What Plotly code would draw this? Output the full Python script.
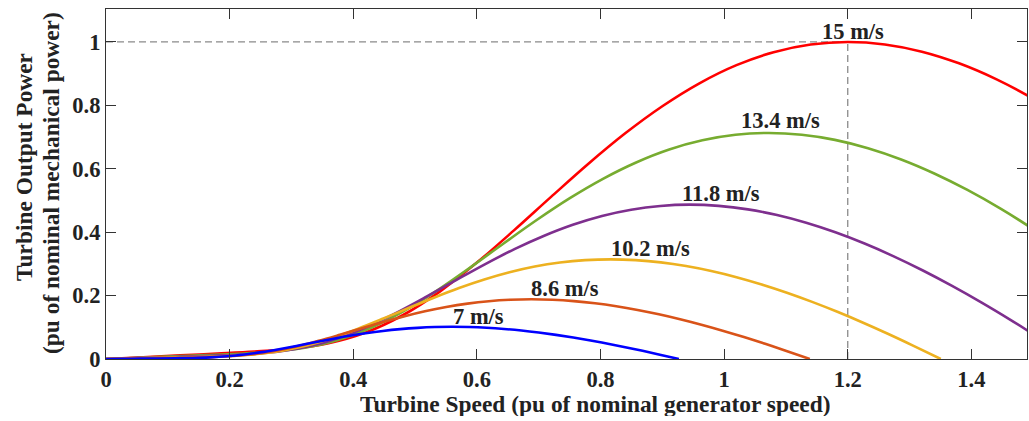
import plotly.graph_objects as go

# Wind speeds (labels) and colours
speeds = ["15 m/s", "13.4 m/s", "11.8 m/s", "10.2 m/s", "8.6 m/s", "7 m/s"]
colors = ["#FF0000", "#77AC30", "#7E2F8E", "#EDB120", "#D95319", "#0000FF"]

# Turbine speed (pu) and turbine output power (pu) read for each curve
x_15 = [0, 0.06, 0.12, 0.18, 0.24, 0.30, 0.36, 0.42, 0.48, 0.54, 0.60, 0.66, 0.72, 0.78, 0.84, 0.90,
        0.96, 1.02, 1.08, 1.14, 1.20, 1.26, 1.32, 1.38, 1.44, 1.50, 1.56]
y_15 = [0, 0.0057, 0.0115, 0.0172, 0.0233, 0.0321, 0.0498, 0.0836, 0.1380, 0.2127, 0.3040, 0.4057,
        0.5113, 0.6151, 0.7118, 0.7973, 0.8697, 0.9270, 0.9676, 0.9918, 1.0, 0.9922, 0.9695, 0.9326,
        0.8827, 0.8208, 0.7479]

x_134 = [0, 0.0536, 0.1072, 0.1608, 0.2144, 0.268, 0.3216, 0.3752, 0.4288, 0.4824, 0.536, 0.5896,
         0.6432, 0.6968, 0.7504, 0.804, 0.8576, 0.9112, 0.9648, 1.0184, 1.072, 1.1256, 1.1792, 1.2328,
         1.2864, 1.34, 1.3936, 1.4472, 1.5008, 1.5544]
y_134 = [0, 0.0041, 0.0082, 0.0123, 0.0166, 0.0229, 0.0355, 0.0596, 0.0984, 0.1516, 0.2167, 0.2892,
         0.3645, 0.4385, 0.5074, 0.5684, 0.6200, 0.6609, 0.6898, 0.7071, 0.7129, 0.7073, 0.6912, 0.6648,
         0.6293, 0.5851, 0.5332, 0.4742, 0.4087, 0.3376]

x_118 = [0, 0.0472, 0.0944, 0.1416, 0.1888, 0.236, 0.2832, 0.3304, 0.3776, 0.4248, 0.472, 0.5192,
         0.5664, 0.6136, 0.6608, 0.708, 0.7552, 0.8024, 0.8496, 0.8968, 0.944, 0.9912, 1.0384, 1.0856,
         1.1328, 1.18, 1.2272, 1.2744, 1.3216, 1.3688, 1.416, 1.4632, 1.5104, 1.5623]
y_118 = [0, 0.0028, 0.0056, 0.0084, 0.0113, 0.0156, 0.0242, 0.0407, 0.0672, 0.1035, 0.1480, 0.1975,
         0.2489, 0.2994, 0.3465, 0.3881, 0.4234, 0.4513, 0.4710, 0.4828, 0.4868, 0.4830, 0.4720, 0.4540,
         0.4297, 0.3996, 0.3641, 0.3238, 0.2791, 0.2305, 0.1786, 0.1235, 0.0657, 0]

x_102 = [0, 0.0408, 0.0816, 0.1224, 0.1632, 0.204, 0.2448, 0.2856, 0.3264, 0.3672, 0.408, 0.4488,
         0.4896, 0.5304, 0.5712, 0.612, 0.6528, 0.6936, 0.7344, 0.7752, 0.816, 0.8568, 0.8976, 0.9384,
         0.9792, 1.02, 1.0608, 1.1016, 1.1424, 1.1832, 1.224, 1.2648, 1.3056, 1.3505]
y_102 = [0, 0.0018, 0.0036, 0.0054, 0.0073, 0.0101, 0.0157, 0.0263, 0.0434, 0.0669, 0.0956, 0.1276,
         0.1608, 0.1934, 0.2238, 0.2507, 0.2734, 0.2915, 0.3042, 0.3118, 0.3144, 0.3119, 0.3048, 0.2932,
         0.2775, 0.2581, 0.2351, 0.2091, 0.1802, 0.1489, 0.1153, 0.0797, 0.0424, 0]

x_86 = [0, 0.0344, 0.0688, 0.1032, 0.1376, 0.172, 0.2064, 0.2408, 0.2752, 0.3096, 0.344, 0.3784,
        0.4128, 0.4472, 0.4816, 0.516, 0.5504, 0.5848, 0.6192, 0.6536, 0.688, 0.7224, 0.7568, 0.7912,
        0.8256, 0.86, 0.8944, 0.9288, 0.9632, 0.9976, 1.032, 1.0664, 1.1008, 1.1386]
y_86 = [0, 0.0011, 0.0022, 0.0032, 0.0044, 0.0060, 0.0094, 0.0158, 0.0260, 0.0401, 0.0573, 0.0765,
        0.0964, 0.1159, 0.1341, 0.1503, 0.1639, 0.1747, 0.1824, 0.1869, 0.1885, 0.1870, 0.1827, 0.1758,
        0.1664, 0.1547, 0.1409, 0.1253, 0.1080, 0.0893, 0.0691, 0.0478, 0.0254, 0]

x_7 = [0, 0.028, 0.056, 0.084, 0.112, 0.14, 0.168, 0.196, 0.224, 0.252, 0.28, 0.308, 0.336, 0.364,
       0.392, 0.42, 0.448, 0.476, 0.504, 0.532, 0.56, 0.588, 0.616, 0.644, 0.672, 0.70, 0.728, 0.756,
       0.784, 0.812, 0.84, 0.868, 0.896, 0.9268]
y_7 = [0, 0.0006, 0.0012, 0.0017, 0.0024, 0.0033, 0.0051, 0.0085, 0.0140, 0.0216, 0.0309, 0.0412,
       0.0520, 0.0625, 0.0723, 0.0810, 0.0884, 0.0942, 0.0983, 0.1008, 0.1016, 0.1008, 0.0985, 0.0948,
       0.0897, 0.0834, 0.0760, 0.0676, 0.0583, 0.0481, 0.0373, 0.0258, 0.0137, 0]

xs = [x_15, x_134, x_118, x_102, x_86, x_7]
ys = [y_15, y_134, y_118, y_102, y_86, y_7]

# Label anchor positions (data coordinates)
label_x = [1.209, 1.092, 0.995, 0.881, 0.742, 0.603]
label_y = [1.032, 0.752, 0.523, 0.349, 0.223, 0.133]

# Rated point marked by the dashed guide lines
rated_speed = 1.2
rated_power = 1.0

x_ticks = [0, 0.2, 0.4, 0.6, 0.8, 1.0, 1.2, 1.4]
x_tick_text = ["0", "0.2", "0.4", "0.6", "0.8", "1", "1.2", "1.4"]
y_ticks = [0, 0.2, 0.4, 0.6, 0.8, 1.0]
y_tick_text = ["0", "0.2", "0.4", "0.6", "0.8", "1"]

x_title = "Turbine Speed (pu of nominal generator speed)"
y_title_lines = ["Turbine Output Power", "(pu of nominal mechanical power)"]

FONT = "Liberation Serif"
TXT = "#222222"
FS = 22.5
FT = 23.4

fig = go.Figure()

# dashed guide lines
fig.add_trace(go.Scatter(x=[0, rated_speed], y=[rated_power, rated_power], mode="lines",
                         line=dict(color="#8a8a8a", width=1.3, dash="7px,4px"),
                         showlegend=False, hoverinfo="skip"))
fig.add_trace(go.Scatter(x=[rated_speed, rated_speed], y=[0, rated_power], mode="lines",
                         line=dict(color="#8a8a8a", width=1.3, dash="7px,4px"),
                         showlegend=False, hoverinfo="skip"))

for name, c, x, y in zip(speeds, colors, xs, ys):
    fig.add_trace(go.Scatter(x=x, y=y, mode="lines", name=name,
                             line=dict(color=c, width=2.6, shape="spline", smoothing=1.0),
                             showlegend=False))

for name, lx, ly in zip(speeds, label_x, label_y):
    fig.add_annotation(x=lx, y=ly, text="<b>%s</b>" % name, showarrow=False,
                       font=dict(family=FONT, size=FS, color=TXT),
                       xanchor="center", yanchor="middle")

# axis titles (placed as paper annotations to match the original offsets)
fig.add_annotation(xref="paper", yref="paper", x=0.531, y=-0.128, text="<b>%s</b>" % x_title,
                   showarrow=False, xanchor="center", yanchor="middle", height=24,
                   font=dict(family=FONT, size=FT, color=TXT))
for txt, px, py in zip(y_title_lines, [-0.089, -0.0597], [0.549, 0.503]):
    fig.add_annotation(xref="paper", yref="paper", x=px, y=py, text="<b>%s</b>" % txt,
                       showarrow=False, xanchor="center", yanchor="middle", textangle=-90,
                       font=dict(family=FONT, size=FT, color=TXT))

axis_common = dict(showline=True, linecolor="#333333", linewidth=1.2, mirror="ticks",
                   ticks="inside", ticklen=10, tickcolor="#333333", tickwidth=1.2,
                   showgrid=False, zeroline=False,
                   tickfont=dict(family=FONT, size=FS, color=TXT))

fig.update_xaxes(range=[0, 1.49], tickvals=x_ticks, ticktext=["<b>%s</b>" % t for t in x_tick_text],
                 **axis_common)
fig.update_yaxes(range=[0, 1.104], tickvals=y_ticks, ticktext=["<b>%s</b>" % t for t in y_tick_text],
                 **axis_common)

fig.update_layout(width=1029, height=421, margin=dict(l=106, r=2, t=9, b=62, autoexpand=False),
                  plot_bgcolor="white", paper_bgcolor="white")

fig.write_html("out.html", config={"displayModeBar": False},
               post_script="document.body.style.margin='0';document.body.style.overflow='hidden';")
